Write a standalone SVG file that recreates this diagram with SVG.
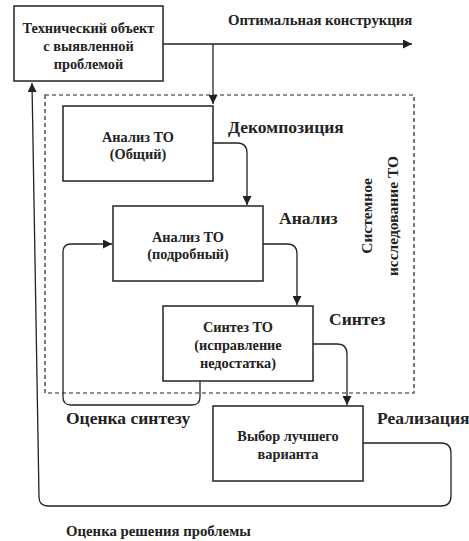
<svg xmlns="http://www.w3.org/2000/svg" width="469" height="541" viewBox="0 0 469 541">
<style>
text{font-family:"Liberation Serif","Times New Roman",serif;font-weight:bold;fill:#222}
.box{fill:#fff;stroke:#222;stroke-width:1.5}
.t{font-size:14.3px;text-anchor:middle}
.lbl{font-size:17.5px}
.sm{font-size:14.8px}
.c{fill:none;stroke:#222;stroke-width:1.3}
</style>
<defs>
<marker id="a" viewBox="0 0 10 10" refX="10" refY="5" markerWidth="9" markerHeight="9" markerUnits="userSpaceOnUse" orient="auto"><path d="M0,0L10,5L0,10z" fill="#222"/></marker>
</defs>
<rect x="0" y="0" width="469" height="541" fill="#fff"/>
<g id="boundary">
<rect x="45" y="95" width="369" height="298" fill="none" stroke="#222" stroke-width="1.2" stroke-dasharray="4,3"/>
<text transform="translate(372,216) rotate(-90)" text-anchor="middle" style="font-size:15.5px">Системное</text>
<text transform="translate(398,216) rotate(-90)" text-anchor="middle" style="font-size:15.5px">исследование ТО</text>
</g>
<g id="connectors">
<path class="c" d="M163,44H412" marker-end="url(#a)"/>
<path class="c" d="M213,44V104" marker-end="url(#a)"/>
<path class="c" d="M213,143H237Q247,143 247,153V205" marker-end="url(#a)"/>
<path class="c" d="M263,244H287Q297,244 297,254V305" marker-end="url(#a)"/>
<path class="c" d="M313,344H337Q347,344 347,354V405" marker-end="url(#a)"/>
<path class="c" d="M200,381V397Q200,405 192,405H71Q63,405 63,397V252Q63,244 71,244H112" marker-end="url(#a)"/>
<path class="c" d="M363,443H441Q451,443 451,453V496Q451,506 441,506H48Q39,506 39,497L32,83" marker-end="url(#a)"/>
<text class="sm" x="228" y="25">Оптимальная конструкция</text>
<text class="lbl" x="228" y="133">Декомпозиция</text>
<text class="lbl" x="279" y="224">Анализ</text>
<text class="lbl" x="329" y="325">Синтез</text>
<text class="lbl" x="66" y="424">Оценка синтезу</text>
<text class="lbl" x="377" y="424">Реализация</text>
<text class="sm" x="66" y="536">Оценка решения проблемы</text>
</g>
<g id="n1"><rect class="box" x="14" y="6" width="149" height="75"/>
<text class="t" x="88.5" y="33">Технический объект</text>
<text class="t" x="88.5" y="51">с выявленной</text>
<text class="t" x="88.5" y="69">проблемой</text></g>
<g id="n2"><rect class="box" x="63" y="106" width="150" height="75"/>
<text class="t" x="138" y="142">Анализ ТО</text>
<text class="t" x="138" y="159">(Общий)</text></g>
<g id="n3"><rect class="box" x="113" y="206" width="150" height="75"/>
<text class="t" x="188" y="242">Анализ ТО</text>
<text class="t" x="188" y="259">(подробный)</text></g>
<g id="n4"><rect class="box" x="163" y="306" width="150" height="75"/>
<text class="t" x="238" y="332">Синтез ТО</text>
<text class="t" x="238" y="350">(исправление</text>
<text class="t" x="238" y="368">недостатка)</text></g>
<g id="n5"><rect class="box" x="213" y="406" width="150" height="75"/>
<text class="t" x="288" y="441">Выбор лучшего</text>
<text class="t" x="288" y="459">варианта</text></g>
</svg>
